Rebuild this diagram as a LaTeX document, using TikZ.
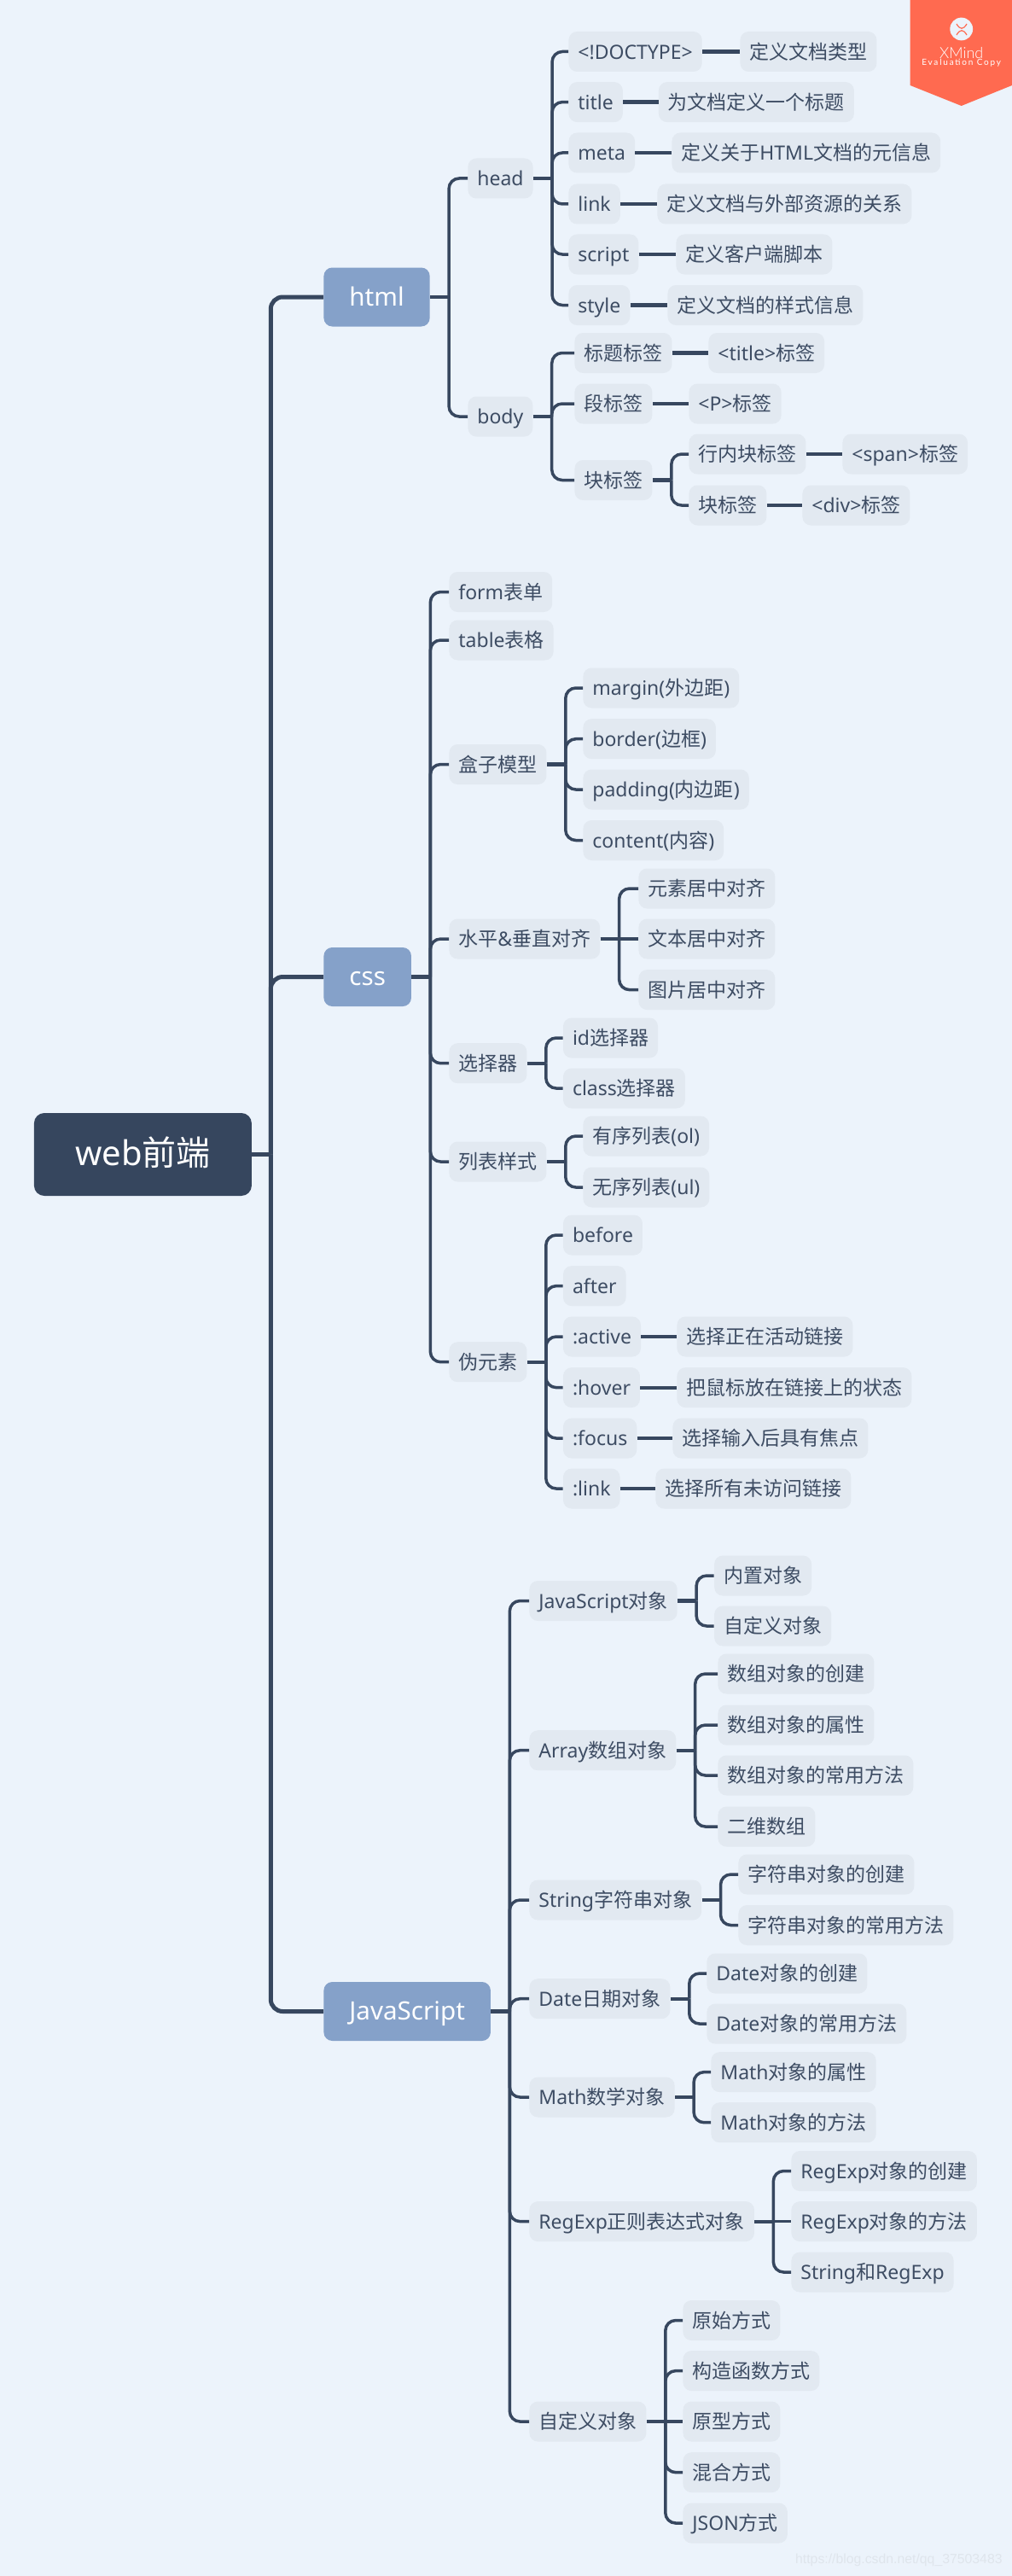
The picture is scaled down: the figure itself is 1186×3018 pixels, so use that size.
\documentclass[tikz,border=0pt]{standalone}
\usepackage{fontspec}
\setmainfont{Noto Sans}
\newfontfamily\cjk{Noto Sans CJK SC}
\newfontfamily\bannerfont{Lato Light}
\newfontfamily\bannerwide[LetterSpace=18]{Lato}
\newfontfamily\markfont{Liberation Sans}
\newcommand{\zh}[1]{{\cjk #1}}
\usetikzlibrary{positioning}
\definecolor{pagebg}{HTML}{ECF3FB}
\definecolor{leaffill}{HTML}{E2E9F1}
\definecolor{majorfill}{HTML}{85A1C9}
\definecolor{rootfill}{HTML}{36465E}
\definecolor{inkline}{HTML}{37475F}
\definecolor{inktext}{HTML}{3D4C63}
\definecolor{bannerred}{HTML}{FF6A50}
\definecolor{markgray}{HTML}{DFE5EC}
\tikzset{
  leaf/.style={anchor=west,fill=leaffill,rounded corners=5pt,text=inktext,
    font=\fontsize{11.5pt}{14pt}\selectfont,minimum height=23.5pt,inner xsep=5.5pt,inner ysep=0pt,
    text height=11pt,text depth=2.3pt},
  major/.style={anchor=west,fill=majorfill,rounded corners=5pt,text=white,
    font=\fontsize{14.8pt}{18pt}\selectfont,minimum height=34.5pt,inner xsep=15pt,inner ysep=0pt,
    text height=13pt,text depth=2.6pt},
  central/.style={anchor=west,fill=rootfill,rounded corners=6pt,text=white,
    font=\fontsize{20pt}{24pt}\selectfont,minimum height=48.5pt,minimum width=127.5pt,inner sep=0pt,
    text height=17pt,text depth=4.5pt},
  trunk/.style={draw=inkline,line width=2.5pt,rounded corners=7pt},
  branch/.style={draw=inkline,line width=1.75pt,rounded corners=6pt},
  stub/.style={draw=inkline,line width=2.1pt}
}
\begin{document}
\begin{tikzpicture}[x=0.5pt,y=-0.5pt]
  \useasboundingbox (0,0) rectangle (1186,3018);
  \fill[pagebg] (0,0) rectangle (1186,3018);

  \node[central] (web) at (39.5,1352.5) {web\zh{前端}};
  \node[major] (html) at (379,348) {html};
  \node[major] (css) at (379,1144.5) {css};
  \node[major] (js) at (379,2356.5) {JavaScript};

  \node[leaf] (head) at (548,209) {head};
  \node[leaf] (body) at (548,488) {body};
  \node[leaf] (doctype) at (666,60.5) {<!DOCTYPE>};
  \node[leaf] (doctypenote) at (867,60.5) {\zh{定义文档类型}};
  \node[leaf] (title) at (666,119.6) {title};
  \node[leaf] (titlenote) at (771.5,119.6) {\zh{为文档定义一个标题}};
  \node[leaf] (meta) at (666,179) {meta};
  \node[leaf] (metanote) at (787,179) {\zh{定义关于}HTML\zh{文档的元信息}};
  \node[leaf] (link) at (666,239) {link};
  \node[leaf] (linknote) at (770,239) {\zh{定义文档与外部资源的关系}};
  \node[leaf] (script) at (666,298) {script};
  \node[leaf] (scriptnote) at (792,298) {\zh{定义客户端脚本}};
  \node[leaf] (style) at (666,357.5) {style};
  \node[leaf] (stylenote) at (782,357.5) {\zh{定义文档的样式信息}};
  \node[leaf] (headline) at (673,413.5) {\zh{标题标签}};
  \node[leaf] (headlinetag) at (830,413.5) {<title>\zh{标签}};
  \node[leaf] (para) at (673,473) {\zh{段标签}};
  \node[leaf] (paratag) at (807,473) {<P>\zh{标签}};
  \node[leaf] (blocks) at (673,562.5) {\zh{块标签}};
  \node[leaf] (inlineblock) at (807,532) {\zh{行内块标签}};
  \node[leaf] (inlinetag) at (987,532) {<span>\zh{标签}};
  \node[leaf] (block) at (807,592) {\zh{块标签}};
  \node[leaf] (blocktag) at (940,592) {<div>\zh{标签}};

  \node[leaf] (form) at (526,693.5) {form\zh{表单}};
  \node[leaf] (table) at (526,750) {table\zh{表格}};
  \node[leaf] (boxmodel) at (526,895.5) {\zh{盒子模型}};
  \node[leaf] (margin) at (683,806) {margin(\zh{外边距})};
  \node[leaf] (border) at (683,865.7) {border(\zh{边框})};
  \node[leaf] (padding) at (683,925) {padding(\zh{内边距})};
  \node[leaf] (content) at (683,984.5) {content(\zh{内容})};
  \node[leaf] (align) at (526,1100) {\zh{水平}\&\zh{垂直对齐}};
  \node[leaf] (alignelem) at (748,1041) {\zh{元素居中对齐}};
  \node[leaf] (aligntext) at (748,1100) {\zh{文本居中对齐}};
  \node[leaf] (alignimg) at (748,1159.6) {\zh{图片居中对齐}};
  \node[leaf] (selector) at (526,1245.7) {\zh{选择器}};
  \node[leaf] (idsel) at (659.6,1216) {id\zh{选择器}};
  \node[leaf] (classsel) at (659.6,1275) {class\zh{选择器}};
  \node[leaf] (liststyle) at (526,1361) {\zh{列表样式}};
  \node[leaf] (ol) at (683,1331) {\zh{有序列表}(ol)};
  \node[leaf] (ul) at (683,1391) {\zh{无序列表}(ul)};
  \node[leaf] (pseudo) at (526,1595.7) {\zh{伪元素}};
  \node[leaf] (before) at (659.6,1447) {before};
  \node[leaf] (after) at (659.6,1506.6) {after};
  \node[leaf] (active) at (659.6,1566) {:active};
  \node[leaf] (activenote) at (793,1566) {\zh{选择正在活动链接}};
  \node[leaf] (hover) at (659.6,1625.6) {:hover};
  \node[leaf] (hovernote) at (793,1625.6) {\zh{把鼠标放在链接上的状态}};
  \node[leaf] (focus) at (659.6,1685) {:focus};
  \node[leaf] (focusnote) at (788,1685) {\zh{选择输入后具有焦点}};
  \node[leaf] (linkp) at (659.6,1744) {:link};
  \node[leaf] (linkpnote) at (768,1744) {\zh{选择所有未访问链接}};

  \node[leaf] (jsobj) at (620,1875.5) {JavaScript\zh{对象}};
  \node[leaf] (builtin) at (836.7,1846) {\zh{内置对象}};
  \node[leaf] (custom) at (836.7,1905) {\zh{自定义对象}};
  \node[leaf] (array) at (620,2050.7) {Array\zh{数组对象}};
  \node[leaf] (arraynew) at (841,1961) {\zh{数组对象的创建}};
  \node[leaf] (arrayprop) at (841,2021) {\zh{数组对象的属性}};
  \node[leaf] (arrayfunc) at (841,2080) {\zh{数组对象的常用方法}};
  \node[leaf] (array2d) at (841,2140) {\zh{二维数组}};
  \node[leaf] (string) at (620,2226) {String\zh{字符串对象}};
  \node[leaf] (stringnew) at (865,2196) {\zh{字符串对象的创建}};
  \node[leaf] (stringfunc) at (865,2255.5) {\zh{字符串对象的常用方法}};
  \node[leaf] (date) at (620,2341.7) {Date\zh{日期对象}};
  \node[leaf] (datenew) at (828,2312) {Date\zh{对象的创建}};
  \node[leaf] (datefunc) at (828,2371) {Date\zh{对象的常用方法}};
  \node[leaf] (math) at (620,2457) {Math\zh{数学对象}};
  \node[leaf] (mathprop) at (833,2427.6) {Math\zh{对象的属性}};
  \node[leaf] (mathfunc) at (833,2486.7) {Math\zh{对象的方法}};
  \node[leaf] (regexp) at (620,2602.6) {RegExp\zh{正则表达式对象}};
  \node[leaf] (regexpnew) at (927,2543.5) {RegExp\zh{对象的创建}};
  \node[leaf] (regexpfunc) at (927,2602.6) {RegExp\zh{对象的方法}};
  \node[leaf] (regexpstr) at (927,2662) {String\zh{和}RegExp};
  \node[leaf] (ownobj) at (620,2837) {\zh{自定义对象}};
  \node[leaf] (plainway) at (800,2718.5) {\zh{原始方式}};
  \node[leaf] (ctorway) at (800,2777.6) {\zh{构造函数方式}};
  \node[leaf] (protoway) at (800,2837) {\zh{原型方式}};
  \node[leaf] (mixway) at (800,2896.6) {\zh{混合方式}};
  \node[leaf] (jsonway) at (800,2956) {JSON\zh{方式}};

  \draw[stub,line width=2.5pt] (web.east) -- ++(22,0);
  \foreach \kid in {html,css,js}
    \draw[trunk] (web.east) ++(22,0) |- (\kid.west);

  \foreach \up/\kids in {html/{head,body},
      head/{doctype,title,meta,link,script,style},
      body/{headline,para,blocks},
      blocks/{inlineblock,block},
      css/{form,table,boxmodel,align,selector,liststyle,pseudo},
      boxmodel/{margin,border,padding,content},
      align/{alignelem,alignimg},
      selector/{idsel,classsel},
      liststyle/{ol,ul},
      pseudo/{before,after,active,hover,focus,linkp},
      js/{jsobj,array,string,date,math,regexp,ownobj},
      jsobj/{builtin,custom},
      array/{arraynew,arrayprop,arrayfunc,array2d},
      string/{stringnew,stringfunc},
      date/{datenew,datefunc},
      math/{mathprop,mathfunc},
      regexp/{regexpnew,regexpstr},
      ownobj/{plainway,ctorway,mixway,jsonway}} {
    \draw[stub] (\up.east) -- ++(22,0);
    \foreach \kid in \kids
      \draw[branch] (\up.east) ++(22,0) |- (\kid.west);
  }
  \draw[branch] (align.east) -- (aligntext.west);
  \draw[branch] (regexp.east) -- (regexpfunc.west);
  \draw[branch] (ownobj.east) -- (protoway.west);

  \foreach \a/\b in {doctype/doctypenote,title/titlenote,meta/metanote,link/linknote,
      script/scriptnote,style/stylenote,headline/headlinetag,para/paratag,
      inlineblock/inlinetag,block/blocktag,active/activenote,hover/hovernote,
      focus/focusnote,linkp/linkpnote}
    \draw[stub] (\a.east) -- (\b.west);

  \fill[bannerred] (1066.7,0) -- (1186,0) -- (1186,100) -- (1126.7,124) -- (1066.7,100) -- cycle;
  \fill[pagebg] (1126.7,34) circle (13.4);
  \draw[bannerred,line width=0.6pt] (1121,28) .. controls (1125,35) and (1129,35) .. (1133,28);
  \draw[bannerred,line width=0.6pt] (1121,41) .. controls (1125,34) and (1129,34) .. (1133,41);
  \node[text=white,font=\bannerfont\fontsize{9pt}{11pt}\selectfont,inner sep=0pt] (xmind) at (1126.7,62) {XMind};
  \node[text=white,font=\bannerwide\fontsize{5pt}{6pt}\selectfont,inner sep=0pt] (copynote) at (1126.7,74) {Evaluation Copy};
  \node[text=markgray,font=\markfont\fontsize{7.9pt}{10pt}\selectfont,anchor=east,inner sep=0pt] (weblink) at (1175,2999) {https://blog.csdn.net/qq\_37503483};
\end{tikzpicture}
\end{document}
